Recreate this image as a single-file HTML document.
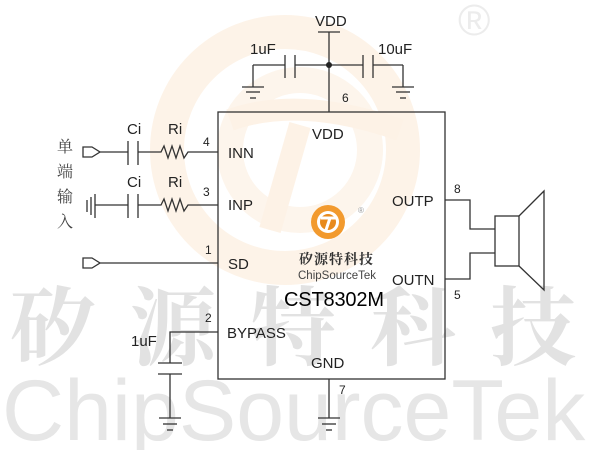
<!DOCTYPE html>
<html><head><meta charset="utf-8"><style>
body{margin:0;width:600px;height:450px;overflow:hidden;background:#fff;}
svg{display:block}
</style></head><body>
<svg width="600" height="450" viewBox="0 0 600 450" font-family="Liberation Sans, Noto Sans CJK SC, sans-serif">
<!-- watermark logo -->
<circle cx="285" cy="150" r="118" fill="none" stroke="#fdf3e8" stroke-width="34"/>
<circle cx="300" cy="150" r="70" fill="none" stroke="#fdf5ec" stroke-width="26"/>
<path d="M230 120 Q300 95 400 130" stroke="#fdf2e6" stroke-width="22" fill="none"/>
<path d="M300 125 L270 230" stroke="#fdf2e6" stroke-width="22" fill="none"/>
<text x="458" y="35" font-size="44" fill="#ececec">®</text>
<text x="10" y="358" font-size="86" fill="#e2e2e2" font-weight="bold" font-family="Noto Serif CJK SC, serif" letter-spacing="34">矽源特科技</text>
<text x="2" y="440" font-size="86" fill="#e6e6e6">ChipSourceTek</text>
<g stroke="#333" stroke-width="1.3" fill="none">
<rect x="218" y="112" width="227" height="267"/>
<line x1="318" y1="32" x2="340" y2="32"/>
<line x1="329" y1="32" x2="329" y2="112"/>
<line x1="295" y1="65" x2="363" y2="65"/>
<line x1="285" y1="65" x2="253" y2="65"/><line x1="253" y1="65" x2="253" y2="87"/>
<line x1="373" y1="65" x2="403" y2="65"/><line x1="403" y1="65" x2="403" y2="87"/>
<line x1="285" y1="55" x2="285" y2="78"/><line x1="295" y1="55" x2="295" y2="78"/>
<line x1="363" y1="55" x2="363" y2="78"/><line x1="373" y1="55" x2="373" y2="78"/>
<line x1="242" y1="87" x2="264" y2="87"/><line x1="246" y1="92" x2="260" y2="92"/><line x1="250" y1="98" x2="256" y2="98"/>
<line x1="392" y1="87" x2="414" y2="87"/><line x1="396" y1="92" x2="410" y2="92"/><line x1="400" y1="98" x2="406" y2="98"/>
<path d="M83 147 L92 147 L100 152 L92 157 L83 157 Z"/>
<line x1="100" y1="152" x2="128" y2="152"/>
<line x1="128" y1="141" x2="128" y2="165"/><line x1="138" y1="141" x2="138" y2="165"/>
<path d="M138 152 L161 152 L164 146 L168 158 L172 146 L176 158 L180 146 L184 158 L188 152 L218 152"/>
<line x1="87" y1="200" x2="87" y2="212"/><line x1="91" y1="197" x2="91" y2="215"/>
<line x1="95" y1="194" x2="95" y2="218"/>
<line x1="95" y1="205" x2="128" y2="205"/>
<line x1="128" y1="194" x2="128" y2="218"/><line x1="138" y1="194" x2="138" y2="218"/>
<path d="M138 205 L161 205 L164 199 L168 211 L172 199 L176 211 L180 199 L184 211 L188 205 L218 205"/>
<path d="M83 258 L92 258 L100 263 L92 268 L83 268 Z"/>
<line x1="100" y1="263" x2="218" y2="263"/>
<path d="M218 332 L170 332 L170 363"/>
<line x1="158" y1="363" x2="182" y2="363"/><line x1="158" y1="374" x2="182" y2="374"/>
<line x1="170" y1="374" x2="170" y2="418"/>
<line x1="159" y1="418" x2="181" y2="418"/><line x1="163" y1="424" x2="177" y2="424"/><line x1="167" y1="430" x2="173" y2="430"/>
<line x1="329" y1="379" x2="329" y2="418"/>
<line x1="318" y1="418" x2="340" y2="418"/><line x1="322" y1="424" x2="336" y2="424"/><line x1="326" y1="430" x2="332" y2="430"/>
<path d="M445 200 L470 200 L470 229 L495 229"/>
<path d="M445 279 L470 279 L470 253 L495 253"/>
<rect x="495" y="216" width="24" height="50"/>
<path d="M519 216 L544 191 L544 290 L519 266"/>
</g>
<circle cx="329" cy="65" r="3" fill="#222"/>
<g fill="#222" font-size="15">
<text x="315" y="26">VDD</text>
<text x="250" y="54">1uF</text>
<text x="378" y="54">10uF</text>
<text x="342" y="102" font-size="12">6</text>
<text x="312" y="139">VDD</text>
<text x="127" y="134">Ci</text><text x="168" y="134">Ri</text>
<text x="127" y="187">Ci</text><text x="168" y="187">Ri</text>
<text x="203" y="146" font-size="12">4</text>
<text x="203" y="196" font-size="12">3</text>
<text x="205" y="254" font-size="12">1</text>
<text x="205" y="322" font-size="12">2</text>
<text x="228" y="158">INN</text>
<text x="228" y="210">INP</text>
<text x="228" y="269">SD</text>
<text x="227" y="338">BYPASS</text>
<text x="311" y="368">GND</text>
<text x="339" y="394" font-size="12">7</text>
<text x="392" y="206">OUTP</text>
<text x="392" y="285">OUTN</text>
<text x="454" y="193" font-size="12">8</text>
<text x="454" y="299" font-size="12">5</text>
<text x="131" y="346">1uF</text>
<text x="284" y="306" font-size="20" fill="#000" textLength="100">CST8302M</text>
<text x="298" y="279" font-size="11.5" fill="#444">ChipSourceTek</text>
<text x="299" y="264" font-size="14" fill="#333" font-weight="bold" font-family="Noto Serif CJK SC, serif" letter-spacing="1">矽源特科技</text>
<g font-size="16" fill="#444" font-family="Noto Serif CJK SC, serif">
<text x="57" y="152">单</text><text x="57" y="177">端</text><text x="57" y="202">输</text><text x="57" y="227">入</text>
</g>
</g>
<circle cx="328" cy="222" r="17" fill="#f29a2e"/>
<circle cx="328" cy="222" r="11" fill="#fff"/>
<circle cx="328" cy="222" r="8" fill="#e88a1c"/>
<path d="M321 218 L336 218 M330 218 L326 230" stroke="#fff" stroke-width="3"/>
<text x="358" y="213" font-size="8" fill="#999">®</text>
</svg>
</body></html>
